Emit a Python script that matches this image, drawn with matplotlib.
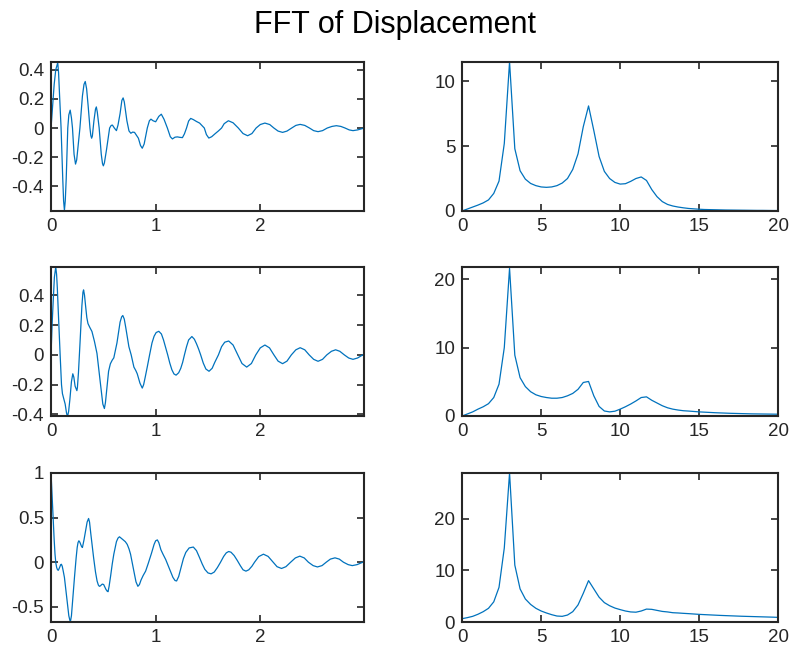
import matplotlib
matplotlib.use("Agg")
import matplotlib.pyplot as plt

plt.rcParams["font.family"] = ["Liberation Sans", "DejaVu Sans"]
plt.rcParams["axes.unicode_minus"] = False

# --- time signals (s, displacement) ---
t1 = [0.000, 0.015, 0.030, 0.045, 0.064, 0.072, 0.080, 0.096, 0.112, 0.120,
      0.128, 0.136, 0.145, 0.160, 0.170, 0.183, 0.195, 0.205, 0.220, 0.234,
      0.245, 0.255, 0.276, 0.300, 0.315, 0.327, 0.340, 0.355, 0.372, 0.380,
      0.388, 0.395, 0.410, 0.425, 0.433, 0.442, 0.460, 0.480, 0.492, 0.500,
      0.510, 0.530, 0.560, 0.575, 0.587, 0.605, 0.625, 0.640, 0.660, 0.677,
      0.689, 0.700, 0.725, 0.745, 0.763, 0.780, 0.798, 0.835, 0.855, 0.872,
      0.890, 0.920, 0.940, 0.955, 0.975, 1.000, 1.030, 1.054, 1.080, 1.112,
      1.140, 1.160, 1.185, 1.208, 1.230, 1.256, 1.275, 1.295, 1.315, 1.335,
      1.360, 1.390, 1.420, 1.445, 1.465, 1.485, 1.508, 1.535, 1.570, 1.600,
      1.630, 1.655, 1.695, 1.740, 1.790, 1.835, 1.879, 1.920, 1.960, 2.000,
      2.044, 2.090, 2.130, 2.170, 2.213, 2.255, 2.300, 2.340, 2.381, 2.425,
      2.470, 2.510, 2.552, 2.595, 2.640, 2.685, 2.727, 2.770, 2.810, 2.850,
      2.886, 2.930, 2.980]
d1 = [0.000, 0.150, 0.300, 0.400, 0.450, 0.380, 0.250, 0.000, -0.350, -0.500,
      -0.566, -0.500, -0.350, 0.000, 0.090, 0.123, 0.070, 0.000, -0.180, -0.248,
      -0.220, -0.150, 0.000, 0.220, 0.300, 0.320, 0.270, 0.150, 0.000, -0.050,
      -0.070, -0.055, 0.050, 0.130, 0.145, 0.110, 0.000, -0.180, -0.245, -0.260,
      -0.240, -0.150, 0.000, 0.018, 0.020, 0.000, -0.018, 0.020, 0.100, 0.190,
      0.207, 0.180, 0.050, -0.020, -0.036, -0.028, -0.030, -0.070, -0.120, -0.139,
      -0.110, 0.000, 0.050, 0.061, 0.050, 0.043, 0.080, 0.095, 0.060, 0.000,
      -0.060, -0.075, -0.063, -0.061, -0.064, -0.066, -0.040, 0.000, 0.048, 0.066,
      0.058, 0.045, 0.034, 0.015, 0.000, -0.045, -0.069, -0.060, -0.038, -0.020,
      0.000, 0.030, 0.050, 0.036, 0.000, -0.038, -0.053, -0.038, 0.000, 0.024,
      0.034, 0.024, 0.000, -0.021, -0.030, -0.021, 0.000, 0.018, 0.025, 0.018,
      0.000, -0.018, -0.025, -0.018, 0.000, 0.011, 0.016, 0.011, 0.000, -0.013,
      -0.018, -0.013, -0.003]

t2 = [0.000, 0.010, 0.020, 0.032, 0.045, 0.053, 0.060, 0.070, 0.087, 0.100,
      0.109, 0.120, 0.135, 0.148, 0.157, 0.168, 0.180, 0.195, 0.208, 0.218,
      0.230, 0.247, 0.252, 0.262, 0.277, 0.295, 0.305, 0.311, 0.320, 0.330,
      0.342, 0.353, 0.370, 0.391, 0.415, 0.439, 0.470, 0.495, 0.510, 0.520,
      0.530, 0.550, 0.567, 0.585, 0.600, 0.630, 0.660, 0.675, 0.686, 0.700,
      0.715, 0.744, 0.766, 0.792, 0.810, 0.824, 0.850, 0.872, 0.885, 0.900,
      0.920, 0.942, 0.965, 0.985, 1.005, 1.030, 1.055, 1.075, 1.095, 1.115,
      1.135, 1.155, 1.175, 1.195, 1.220, 1.240, 1.258, 1.275, 1.295, 1.315,
      1.346, 1.370, 1.390, 1.410, 1.430, 1.455, 1.480, 1.510, 1.540, 1.565,
      1.600, 1.630, 1.660, 1.698, 1.740, 1.785, 1.825, 1.870, 1.915, 1.957,
      2.000, 2.044, 2.088, 2.130, 2.170, 2.213, 2.255, 2.297, 2.340, 2.381,
      2.425, 2.467, 2.510, 2.552, 2.595, 2.636, 2.680, 2.720, 2.760, 2.803,
      2.845, 2.886, 2.930, 2.980]
d2 = [0.000, 0.200, 0.350, 0.520, 0.590, 0.540, 0.450, 0.280, 0.000, -0.200,
      -0.260, -0.290, -0.330, -0.390, -0.416, -0.380, -0.300, -0.180, -0.127, -0.150,
      -0.210, -0.240, -0.220, -0.120, 0.080, 0.330, 0.420, 0.436, 0.400, 0.330,
      0.250, 0.210, 0.185, 0.157, 0.090, 0.010, -0.180, -0.330, -0.360, -0.320,
      -0.250, -0.110, -0.060, -0.035, -0.020, 0.080, 0.220, 0.255, 0.264, 0.240,
      0.180, 0.055, 0.000, -0.082, -0.105, -0.127, -0.190, -0.223, -0.200, -0.150,
      -0.080, 0.000, 0.080, 0.125, 0.150, 0.158, 0.140, 0.100, 0.050, 0.000,
      -0.055, -0.100, -0.128, -0.136, -0.120, -0.090, -0.050, 0.000, 0.055, 0.100,
      0.123, 0.105, 0.075, 0.040, 0.000, -0.055, -0.095, -0.110, -0.090, -0.050,
      0.000, 0.055, 0.085, 0.093, 0.066, 0.000, -0.058, -0.082, -0.058, 0.000,
      0.047, 0.066, 0.047, 0.000, -0.042, -0.059, -0.042, 0.000, 0.034, 0.048,
      0.034, 0.000, -0.030, -0.043, -0.030, 0.000, 0.024, 0.034, 0.024, 0.000,
      -0.021, -0.030, -0.021, 0.000]

t3 = [0.000, 0.010, 0.019, 0.030, 0.038, 0.046, 0.054, 0.062, 0.070, 0.078,
      0.085, 0.092, 0.099, 0.107, 0.115, 0.128, 0.150, 0.170, 0.180, 0.186,
      0.195, 0.205, 0.224, 0.240, 0.250, 0.258, 0.266, 0.275, 0.283, 0.292,
      0.300, 0.315, 0.330, 0.345, 0.359, 0.368, 0.380, 0.407, 0.425, 0.440,
      0.452, 0.462, 0.472, 0.480, 0.490, 0.503, 0.515, 0.525, 0.537, 0.545,
      0.555, 0.570, 0.585, 0.600, 0.625, 0.640, 0.654, 0.670, 0.690, 0.710,
      0.728, 0.745, 0.760, 0.778, 0.795, 0.812, 0.830, 0.845, 0.860, 0.880,
      0.904, 0.930, 0.960, 0.985, 1.000, 1.016, 1.030, 1.050, 1.070, 1.096,
      1.120, 1.140, 1.165, 1.185, 1.200, 1.220, 1.245, 1.265, 1.288, 1.320,
      1.360, 1.390, 1.420, 1.445, 1.470, 1.500, 1.530, 1.560, 1.590, 1.620,
      1.650, 1.675, 1.698, 1.720, 1.750, 1.780, 1.810, 1.835, 1.863, 1.890,
      1.920, 1.945, 1.985, 2.030, 2.075, 2.115, 2.160, 2.203, 2.245, 2.290,
      2.335, 2.378, 2.420, 2.460, 2.505, 2.546, 2.590, 2.630, 2.670, 2.714,
      2.755, 2.795, 2.840, 2.879, 2.925, 2.980]
d3 = [1.000, 0.750, 0.500, 0.250, 0.090, -0.010, -0.060, -0.085, -0.090, -0.070,
      -0.050, -0.028, -0.023, -0.045, -0.090, -0.170, -0.400, -0.600, -0.650, -0.660,
      -0.600, -0.450, -0.170, 0.050, 0.165, 0.220, 0.240, 0.225, 0.200, 0.175,
      0.165, 0.250, 0.350, 0.450, 0.490, 0.450, 0.320, 0.050, -0.110, -0.210,
      -0.255, -0.270, -0.265, -0.255, -0.245, -0.250, -0.280, -0.305, -0.325, -0.330,
      -0.270, -0.150, -0.020, 0.090, 0.230, 0.270, 0.285, 0.270, 0.250, 0.230,
      0.200, 0.150, 0.090, -0.020, -0.120, -0.220, -0.270, -0.250, -0.200, -0.150,
      -0.100, -0.010, 0.100, 0.200, 0.240, 0.250, 0.220, 0.140, 0.090, 0.030,
      -0.040, -0.100, -0.170, -0.205, -0.210, -0.160, -0.050, 0.040, 0.110, 0.160,
      0.170, 0.130, 0.050, -0.020, -0.080, -0.120, -0.130, -0.110, -0.060, 0.000,
      0.065, 0.105, 0.120, 0.112, 0.075, 0.020, -0.040, -0.085, -0.100, -0.085,
      -0.045, 0.000, 0.063, 0.090, 0.065, 0.010, -0.050, -0.070, -0.050, 0.000,
      0.048, 0.068, 0.048, 0.000, -0.038, -0.053, -0.038, 0.000, 0.035, 0.049,
      0.035, 0.000, -0.027, -0.038, -0.027, 0.000]

# --- FFT magnitudes, one value per 1/3 Hz bin from 0 to 20 Hz ---
freq = [0.0, 0.333, 0.667, 1.0, 1.333, 1.667, 2.0, 2.333, 2.667, 3.0,
        3.333, 3.667, 4.0, 4.333, 4.667, 5.0, 5.333, 5.667, 6.0, 6.333,
        6.667, 7.0, 7.333, 7.667, 8.0, 8.333, 8.667, 9.0, 9.333, 9.667,
        10.0, 10.333, 10.667, 11.0, 11.333, 11.667, 12.0, 12.333, 12.667, 13.0,
        13.333, 13.667, 14.0, 14.333, 14.667, 15.0, 15.333, 15.667, 16.0, 16.333,
        16.667, 17.0, 17.333, 17.667, 18.0, 18.333, 18.667, 19.0, 19.333, 19.667,
        20.0]
mag1 = [0.0, 0.15, 0.3, 0.45, 0.62, 0.85, 1.35, 2.3, 5.2, 11.5,
        4.8, 3.1, 2.45, 2.12, 1.95, 1.85, 1.82, 1.85, 1.95, 2.15,
        2.5, 3.2, 4.4, 6.5, 8.1, 6.2, 4.2, 3.05, 2.5, 2.2,
        2.07, 2.1, 2.28, 2.5, 2.62, 2.35, 1.65, 1.1, 0.72, 0.5,
        0.38, 0.3, 0.24, 0.19, 0.16, 0.13, 0.11, 0.1, 0.09, 0.08,
        0.07, 0.065, 0.06, 0.055, 0.05, 0.045, 0.04, 0.04, 0.035, 0.03,
        0.03]
mag2 = [0.0, 0.3, 0.6, 1.0, 1.35, 1.8, 2.7, 4.65, 10.0, 21.6,
        8.9, 5.6, 4.3, 3.55, 3.1, 2.85, 2.7, 2.6, 2.6, 2.7,
        2.95, 3.3, 3.9, 4.9, 5.05, 2.95, 1.4, 0.73, 0.6, 0.7,
        1.0, 1.35, 1.75, 2.2, 2.7, 2.8, 2.3, 1.9, 1.5, 1.2,
        1.0, 0.87, 0.77, 0.72, 0.66, 0.6, 0.56, 0.52, 0.48, 0.45,
        0.42, 0.39, 0.37, 0.35, 0.33, 0.31, 0.3, 0.29, 0.28, 0.27,
        0.26]
mag3 = [0.65, 0.85, 1.1, 1.5, 2.0, 2.65, 3.9, 6.7, 14.3, 28.8,
        11.0, 6.4, 4.45, 3.4, 2.65, 2.13, 1.75, 1.42, 1.16, 1.1,
        1.35, 2.0, 3.3, 5.55, 8.0, 6.4, 4.8, 3.75, 3.15, 2.7,
        2.4, 2.13, 1.95, 1.9, 2.13, 2.5, 2.45, 2.25, 2.05, 1.95,
        1.8, 1.75, 1.68, 1.62, 1.55, 1.48, 1.43, 1.38, 1.33, 1.28,
        1.24, 1.2, 1.16, 1.12, 1.09, 1.06, 1.03, 1.0, 0.97, 0.94,
        0.9]

time_sets = [(t1, d1), (t2, d2), (t3, d3)]
fft_sets = [mag1, mag2, mag3]
time_ylims = [(-0.57, 0.455), (-0.41, 0.59), (-0.67, 1.0)]
time_yticks = [[-0.4, -0.2, 0, 0.2, 0.4], [-0.4, -0.2, 0, 0.2, 0.4], [-0.5, 0, 0.5, 1]]
time_ylabels = [["-0.4", "-0.2", "0", "0.2", "0.4"], ["-0.4", "-0.2", "0", "0.2", "0.4"],
                ["-0.5", "0", "0.5", "1"]]
fft_ylims = [(0, 11.5), (0, 21.8), (0, 28.8)]
fft_yticks = [[0, 5, 10], [0, 10, 20], [0, 10, 20]]

blue = "#0072BD"
dark = "#262626"

fig = plt.figure(figsize=(7.9, 6.51), dpi=100)

row_bottoms = [0.676, 0.361, 0.0445]
row_h = 0.229


def style(ax):
    ax.tick_params(direction="in", top=True, right=True, length=5, width=1.2,
                   colors=dark, labelsize=13.5, pad=5)
    for s in ax.spines.values():
        s.set_linewidth(1.5)
        s.set_color(dark)


for i in range(3):
    ax = fig.add_axes([0.0646, row_bottoms[i], 0.396, row_h])
    t, d = time_sets[i]
    ax.plot(t, d, color=blue, lw=0.9)
    ax.set_xlim(0, 2.99)
    ax.set_ylim(*time_ylims[i])
    ax.set_xticks([0, 1, 2])
    ax.set_yticks(time_yticks[i])
    ax.set_yticklabels(time_ylabels[i])
    style(ax)

    ax = fig.add_axes([0.585, row_bottoms[i], 0.4, row_h])
    ax.plot(freq, fft_sets[i], color=blue, lw=0.9)
    ax.set_xlim(0, 20)
    ax.set_ylim(*fft_ylims[i])
    ax.set_xticks([0, 5, 10, 15, 20])
    ax.set_yticks(fft_yticks[i])
    style(ax)

fig.text(0.5, 1 - 25 / 651, "FFT of Displacement", ha="center", va="center",
         fontsize=22, color="black")

fig.savefig("out.png", dpi=100)
